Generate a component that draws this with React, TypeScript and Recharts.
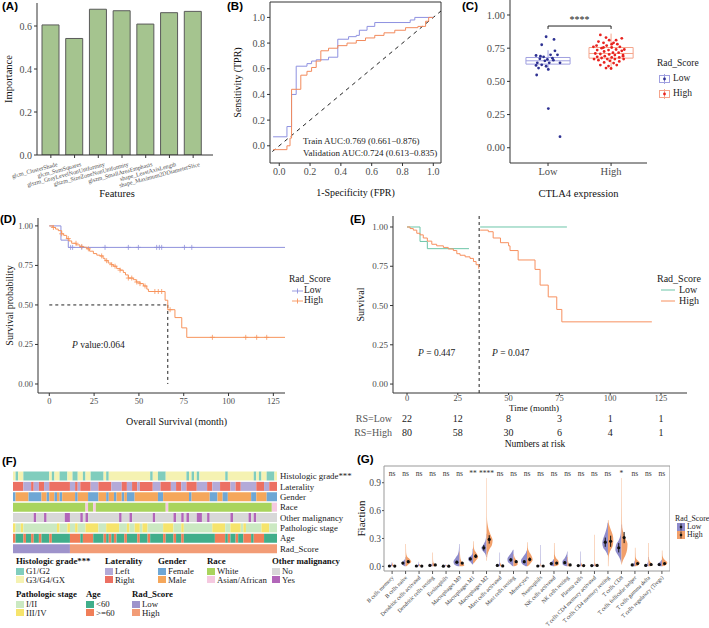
import React from 'react';
import {
  BarChart, Bar, Cell, ComposedChart, Line, Area, Scatter, ScatterChart, XAxis, YAxis,
  ReferenceLine, ReferenceArea, ErrorBar,
} from 'recharts';

const serif = "'Liberation Serif', 'DejaVu Serif', serif";
const sans = "'Liberation Sans', Arial, sans-serif";
const axisCol = '#333333';

// (A) feature importance
const features = [
  'glcm_ClusterShade', 'glcm_SumSquares', 'glszm_GrayLevelNonUniformity', 'glszm_SizeZoneNonUniformity',
  'glszm_SmallAreaEmphasis', 'shape_LeastAxisLength', 'shape_Maximum2DDiameterSlice',
];
const importance = [0.605, 0.542, 0.678, 0.671, 0.609, 0.662, 0.668];

// (B) ROC curves as [fpr, tpr]
const trainRoc = [
  [-0.04, 0.07], [0.05, 0.07], [0.05, 0.15], [0.08, 0.15], [0.08, 0.4], [0.11, 0.4], [0.11, 0.62], [0.18, 0.62],
  [0.18, 0.64], [0.21, 0.64], [0.21, 0.66], [0.24, 0.66], [0.24, 0.67], [0.32, 0.67], [0.32, 0.69], [0.38, 0.69],
  [0.38, 0.83], [0.45, 0.83], [0.45, 0.85], [0.5, 0.85], [0.5, 0.86], [0.52, 0.86], [0.52, 0.9], [0.57, 0.9],
  [0.57, 0.93], [0.62, 0.93], [0.62, 0.96], [0.85, 0.96], [0.85, 0.98], [0.88, 0.98], [0.88, 1], [1, 1],
];
const validRoc = [
  [-0.04, -0.03], [0.05, -0.03], [0.05, 0], [0.07, 0], [0.07, 0.06], [0.08, 0.06], [0.08, 0.44], [0.14, 0.44],
  [0.14, 0.55], [0.18, 0.55], [0.18, 0.58], [0.21, 0.58], [0.21, 0.61], [0.24, 0.61], [0.24, 0.66], [0.27, 0.66],
  [0.27, 0.74], [0.32, 0.74], [0.32, 0.76], [0.38, 0.76], [0.38, 0.78], [0.44, 0.78], [0.44, 0.8], [0.5, 0.8],
  [0.5, 0.82], [0.56, 0.82], [0.56, 0.84], [0.62, 0.84], [0.62, 0.86], [0.68, 0.86], [0.68, 0.88], [0.75, 0.88],
  [0.75, 0.9], [0.82, 0.9], [0.82, 0.92], [0.9, 0.92], [0.9, 0.93], [0.95, 0.93], [0.95, 0.97], [0.97, 0.97],
  [0.97, 1], [1, 1],
];
const aucText = ['Train AUC:0.769 (0.661−0.876)', 'Validation AUC:0.724 (0.613−0.835)'];

// (C) CTLA4 expression, points as [jitter, value]
const groups = ['Low', 'High'];
const lowPoints = [
  [-0.03, 0.836], [0.095, 0.816], [-0.1, 0.776], [0.11, 0.73], [-0.19, 0.695], [-0.07, 0.685], [0.04, 0.7],
  [0.15, 0.7], [-0.13, 0.67], [-0.01, 0.665], [0.085, 0.66], [-0.17, 0.64], [-0.05, 0.655], [0.02, 0.64],
  [-0.1, 0.625], [0.19, 0.64], [-0.19, 0.62], [-0.03, 0.614], [-0.15, 0.6], [0.005, 0.59], [-0.18, 0.548],
  [0.005, 0.295], [0.19, 0.083], [-0.12, 0.69], [0.07, 0.675],
];
const highPoints = [
  [-0.17, 0.85], [0.17, 0.824], [-0.03, 0.81], [-0.12, 0.79], [0.04, 0.79], [0.1, 0.78], [-0.23, 0.77],
  [-0.07, 0.77], [0.14, 0.76], [0.01, 0.755], [-0.15, 0.75], [0.08, 0.74], [-0.22, 0.736], [-0.04, 0.736],
  [0.17, 0.73], [-0.11, 0.725], [0.03, 0.716], [0.12, 0.716], [-0.25, 0.71], [-0.17, 0.706], [-0.03, 0.703],
  [0.06, 0.698], [0.19, 0.698], [-0.1, 0.69], [-0.22, 0.685], [0.01, 0.68], [0.13, 0.68], [-0.15, 0.676],
  [-0.06, 0.668], [0.06, 0.668], [0.2, 0.668], [-0.2, 0.66], [-0.02, 0.655], [0.13, 0.65], [-0.11, 0.643],
  [0.04, 0.638], [-0.17, 0.623], [-0.04, 0.615], [0.09, 0.623], [-0.08, 0.6], [0, 0.597], [-0.28, 0.76],
  [0.21, 0.74], [-0.27, 0.668], [-0.08, 0.83], [0.08, 0.81], [-0.2, 0.8], [0.01, 0.78], [0.19, 0.69], [-0.12, 0.755],
];
// min, q1, median, q3, max
const lowBox = [0.58, 0.63, 0.655, 0.68, 0.735];
const highBox = [0.6, 0.675, 0.71, 0.755, 0.86];

// (D) overall survival, [month, survival]
const osLow = [[0, 1], [6.5, 0.91], [10.6, 0.864], [131.5, 0.864]];
const osHigh = [
  [0, 1], [2, 0.99], [3.5, 0.98], [5, 0.97], [6.9, 0.95], [8, 0.94], [9.7, 0.92], [11, 0.905], [12.5, 0.89],
  [15, 0.88], [17.1, 0.87], [19, 0.865], [20.9, 0.855], [22.5, 0.84], [24.6, 0.825], [26.5, 0.815], [28.3, 0.81],
  [30, 0.795], [31.1, 0.78], [32.9, 0.765], [34.5, 0.755], [35.7, 0.745], [37.6, 0.73], [39.5, 0.72], [41.3, 0.705],
  [42.5, 0.69], [44.1, 0.67], [46.9, 0.66], [48.5, 0.645], [50.6, 0.635], [52.5, 0.62], [54.4, 0.6], [55.3, 0.585],
  [64.6, 0.53], [66.1, 0.47], [70.1, 0.42], [73.9, 0.355], [76.7, 0.295], [131.5, 0.295],
];
const osLowCensor = [11.9, 13, 18.1, 31.1, 44.1, 49.7, 59.9, 61.4, 62.7, 75.4, 79.5];
const osHighCensor = [
  2.3, 6.9, 10.6, 14.9, 18.1, 21.8, 29.2, 32, 34.8, 36.7, 39.5, 44.1, 46, 48.8, 50.6, 53.4, 58.9, 60.8, 62.7,
  67.4, 91, 109.6, 115.7, 121.3,
];

// (E) landmark survival, [month, survival]
const eLowBefore = [[0, 1], [6.4, 0.908], [10, 0.862], [30.5, 0.862]];
const eLowAfter = [[36, 1], [78.7, 1]];
const eHighBefore = [
  [0, 1], [1.5, 0.99], [3.1, 0.98], [4.8, 0.96], [6.4, 0.95], [8, 0.93], [10, 0.91], [12.2, 0.89], [14.6, 0.88],
  [17.9, 0.87], [20.3, 0.86], [22.8, 0.85], [24.5, 0.83], [26.1, 0.82], [28.6, 0.81], [31, 0.8], [32.7, 0.78],
  [34, 0.76], [35.3, 0.735], [35.5, 0.735],
];
const eHighAfter = [
  [36, 0.98], [40, 0.97], [42.4, 0.93], [46, 0.9], [50, 0.88], [50.7, 0.85], [54.7, 0.79], [63, 0.73],
  [65.5, 0.63], [69.5, 0.555], [73.7, 0.475], [76.2, 0.396], [120.5, 0.396],
];
const riskTimes = [0, 25, 50, 75, 100, 125];
const riskLow = [22, 12, 8, 3, 1, 1];
const riskHigh = [80, 58, 30, 6, 4, 1];
const riskRows = ['RS=Low', 'RS=High'];

// (F) clinical heatmap, runs of [category, number of patients]
const heatRows = ['Histologic grade***', 'Laterality', 'Gender', 'Race', 'Other malignancy', 'Pathologic stage', 'Age', 'Rad_Score'];
const heatRuns = [
  [[1, 1], [0, 1], [1, 2], [0, 10], [1, 1], [0, 1], [1, 2], [0, 3], [1, 2], [0, 2], [1, 2], [0, 1], [1, 2], [0, 5], [1, 1], [0, 1], [1, 16], [0, 1], [1, 2], [0, 3], [1, 8], [0, 1], [1, 1], [0, 1], [1, 1], [0, 1], [1, 10], [0, 1], [1, 10], [0, 1], [1, 1], [0, 1], [1, 2], [0, 3], [1, 1]],
  [[1, 4], [0, 3], [1, 1], [0, 2], [1, 2], [0, 2], [1, 8], [0, 2], [1, 1], [0, 1], [1, 4], [0, 3], [1, 5], [0, 4], [1, 2], [0, 2], [1, 2], [0, 1], [1, 5], [0, 3], [1, 4], [0, 2], [1, 2], [0, 2], [1, 4], [0, 4], [1, 2], [0, 3], [1, 4], [0, 2], [1, 2], [0, 6], [1, 3], [0, 2], [1, 3]],
  [[0, 1], [1, 5], [0, 5], [1, 2], [0, 1], [1, 2], [0, 1], [1, 1], [0, 1], [1, 5], [0, 1], [1, 4], [0, 4], [1, 3], [0, 1], [1, 2], [0, 1], [1, 2], [0, 1], [1, 1], [0, 3], [1, 9], [0, 2], [1, 10], [0, 1], [1, 7], [0, 3], [1, 2], [0, 2], [1, 9], [0, 2], [1, 4], [0, 4]],
  [[0, 28], [1, 1], [0, 2], [1, 1], [0, 27], [1, 1], [0, 40], [1, 2]],
  [[0, 8], [1, 1], [0, 3], [1, 1], [0, 7], [1, 2], [0, 4], [1, 1], [0, 1], [1, 1], [0, 12], [1, 1], [0, 3], [1, 1], [0, 8], [1, 1], [0, 7], [1, 1], [0, 2], [1, 1], [0, 1], [1, 1], [0, 3], [1, 2], [0, 2], [1, 1], [0, 8], [1, 1], [0, 6], [1, 1], [0, 1], [1, 1], [0, 8]],
  [[1, 1], [0, 2], [1, 1], [0, 13], [1, 1], [0, 3], [1, 1], [0, 2], [1, 1], [0, 3], [1, 5], [0, 3], [1, 5], [0, 3], [1, 1], [0, 2], [1, 2], [0, 1], [1, 2], [0, 6], [1, 4], [0, 3], [1, 1], [0, 11], [1, 5], [0, 2], [1, 4], [0, 1], [1, 1], [0, 6], [1, 3], [0, 3]],
  [[1, 1], [0, 3], [1, 1], [0, 2], [1, 1], [0, 2], [1, 1], [0, 3], [1, 1], [0, 7], [1, 4], [0, 1], [1, 4], [0, 4], [1, 1], [0, 1], [1, 1], [0, 1], [1, 1], [0, 3], [1, 1], [0, 4], [1, 1], [0, 3], [1, 1], [0, 5], [1, 1], [0, 3], [1, 1], [0, 2], [1, 1], [0, 12], [1, 4], [0, 1], [1, 1], [0, 2], [1, 1], [0, 2], [1, 3], [0, 1], [1, 4], [0, 5]],
  [[0, 22], [1, 80]],
];
const heatColors = [
  ['#80cdbd', '#f5f2b2'], ['#b3aad8', '#ec7063'], ['#6ea7d5', '#f5a75b'], ['#a9d45d', '#f5c9e0'],
  ['#d8d8d8', '#b266b9'], ['#cbe9c2', '#f6e46c'], ['#40ae8b', '#f07e58'], ['#9e93cb', '#f29c76'],
];
const heatLegendItems = [
  ['G1/G2', 'G3/G4/GX'], ['Left', 'Right'], ['Female', 'Male'], ['White', 'Asian/African'],
  ['No', 'Yes'], ['I/II', 'III/IV'], ['<60', '>=60'], ['Low', 'High'],
];

// (G) immune cell fractions, violins as [fraction, half width]
const cellTypes = [
  'B cells memory', 'B cells naive', 'Dendritic cells activated', 'Dendritic cells resting', 'Eosinophils',
  'Macrophages M0', 'Macrophages M1', 'Macrophages M2', 'Mast cells activated', 'Mast cells resting', 'Monocytes',
  'Neutrophils', 'NK cells activated', 'NK cells resting', 'Plasma cells', 'T cells CD4 memory activated',
  'T cells CD4 memory resting', 'T cells CD8', 'T cells follicular helper', 'T cells gamma delta',
  'T cells regulatory (Tregs)',
];
const sigLabels = ['ns', 'ns', 'ns', 'ns', 'ns', 'ns', '**', '****', 'ns', 'ns', 'ns', 'ns', 'ns', 'ns', 'ns', 'ns', 'ns', '*', 'ns', 'ns', 'ns'];
const lowMeans = [0.004, 0.035, 0.004, 0.01, 0.002, 0.045, 0.08, 0.2, 0.01, 0.07, 0.05, 0.004, 0.03, 0.04, 0.008, 0.008, 0.26, 0.2, 0.015, 0.01, 0.02];
const highMeans = [0.003, 0.05, 0.003, 0.015, 0.002, 0.035, 0.11, 0.29, 0.005, 0.05, 0.075, 0.004, 0.035, 0.015, 0.008, 0.01, 0.27, 0.31, 0.03, 0.02, 0.03];
const lowErr = [0.003, 0.01, 0.003, 0.004, 0.002, 0.015, 0.015, 0.03, 0.006, 0.02, 0.015, 0.003, 0.01, 0.015, 0.004, 0.004, 0.05, 0.05, 0.006, 0.005, 0.008];
const highErr = [0.002, 0.015, 0.002, 0.006, 0.001, 0.01, 0.02, 0.045, 0.003, 0.012, 0.02, 0.002, 0.012, 0.006, 0.004, 0.006, 0.06, 0.06, 0.01, 0.01, 0.01];
const lowViolin = [
  [[0, 0.05], [0.005, 0.2], [0.015, 0.1], [0.03, 0.035], [0.045, 0.03]],
  [[0, 0.05], [0.02, 0.25], [0.04, 0.3], [0.06, 0.15], [0.08, 0.05], [0.1, 0.03]],
  [[0, 0.05], [0.005, 0.3], [0.015, 0.1], [0.03, 0.035], [0.05, 0.03]],
  [[0, 0.05], [0.008, 0.3], [0.02, 0.1], [0.035, 0.03]],
  [[0, 0.05], [0.003, 0.3], [0.01, 0.06], [0.02, 0.03]],
  [[0, 0.1], [0.02, 0.38], [0.05, 0.45], [0.09, 0.3], [0.13, 0.12], [0.18, 0.05], [0.24, 0.03]],
  [[0.02, 0.03], [0.04, 0.15], [0.07, 0.35], [0.09, 0.35], [0.12, 0.12], [0.15, 0.04], [0.19, 0.03]],
  [[0.1, 0.03], [0.14, 0.12], [0.17, 0.3], [0.2, 0.38], [0.23, 0.25], [0.27, 0.1], [0.31, 0.04], [0.35, 0.03]],
  [[0, 0.05], [0.005, 0.3], [0.02, 0.1], [0.05, 0.035], [0.15, 0.03]],
  [[0, 0.05], [0.02, 0.2], [0.05, 0.42], [0.08, 0.45], [0.12, 0.3], [0.15, 0.15], [0.18, 0.04]],
  [[0, 0.1], [0.03, 0.38], [0.06, 0.45], [0.1, 0.3], [0.14, 0.1], [0.17, 0.03]],
  [[0, 0.05], [0.003, 0.3], [0.01, 0.06], [0.04, 0.035], [0.23, 0.03]],
  [[0, 0.05], [0.015, 0.3], [0.035, 0.3], [0.06, 0.1], [0.08, 0.03]],
  [[0, 0.05], [0.02, 0.35], [0.05, 0.38], [0.09, 0.2], [0.13, 0.06], [0.16, 0.03]],
  [[0, 0.05], [0.005, 0.3], [0.015, 0.08], [0.04, 0.035], [0.16, 0.03]],
  [[0, 0.05], [0.005, 0.3], [0.015, 0.08], [0.03, 0.03]],
  [[0.12, 0.03], [0.16, 0.15], [0.2, 0.35], [0.25, 0.42], [0.3, 0.35], [0.36, 0.2], [0.42, 0.08], [0.47, 0.03]],
  [[0.04, 0.03], [0.08, 0.1], [0.13, 0.3], [0.18, 0.45], [0.23, 0.4], [0.28, 0.2], [0.33, 0.08], [0.38, 0.04], [0.45, 0.03]],
  [[0, 0.05], [0.01, 0.3], [0.025, 0.2], [0.04, 0.05], [0.06, 0.03]],
  [[0, 0.05], [0.008, 0.3], [0.02, 0.15], [0.05, 0.035], [0.1, 0.03]],
  [[0, 0.05], [0.01, 0.3], [0.03, 0.3], [0.05, 0.12], [0.07, 0.03]],
];
const highViolin = [
  [[0, 0.05], [0.005, 0.2], [0.015, 0.1], [0.03, 0.035], [0.04, 0.03]],
  [[0, 0.06], [0.02, 0.2], [0.05, 0.42], [0.08, 0.3], [0.11, 0.1], [0.15, 0.04], [0.24, 0.03]],
  [[0, 0.05], [0.005, 0.3], [0.012, 0.1], [0.025, 0.03]],
  [[0, 0.05], [0.01, 0.3], [0.025, 0.15], [0.05, 0.05], [0.08, 0.035], [0.15, 0.03]],
  [[0, 0.05], [0.003, 0.3], [0.01, 0.05], [0.015, 0.03]],
  [[0, 0.15], [0.01, 0.35], [0.03, 0.3], [0.06, 0.12], [0.1, 0.05], [0.16, 0.03]],
  [[0.03, 0.03], [0.06, 0.2], [0.1, 0.38], [0.13, 0.3], [0.17, 0.12], [0.21, 0.05], [0.27, 0.03]],
  [[0.06, 0.03], [0.12, 0.06], [0.18, 0.2], [0.23, 0.4], [0.28, 0.45], [0.34, 0.3], [0.4, 0.15], [0.45, 0.08], [0.5, 0.04], [0.55, 0.03], [0.95, 0.025]],
  [[0, 0.05], [0.005, 0.3], [0.015, 0.1], [0.04, 0.03]],
  [[0, 0.05], [0.02, 0.3], [0.05, 0.3], [0.08, 0.15], [0.11, 0.05], [0.13, 0.03]],
  [[0, 0.05], [0.03, 0.25], [0.07, 0.42], [0.11, 0.35], [0.16, 0.15], [0.2, 0.05], [0.26, 0.03]],
  [[0, 0.05], [0.003, 0.3], [0.01, 0.06], [0.03, 0.03]],
  [[0, 0.05], [0.02, 0.35], [0.05, 0.35], [0.09, 0.15], [0.13, 0.05], [0.25, 0.03]],
  [[0, 0.05], [0.01, 0.3], [0.025, 0.15], [0.05, 0.05], [0.1, 0.03]],
  [[0, 0.05], [0.005, 0.3], [0.015, 0.08], [0.04, 0.03]],
  [[0, 0.05], [0.005, 0.3], [0.02, 0.1], [0.05, 0.035], [0.34, 0.03]],
  [[0, 0.03], [0.1, 0.05], [0.16, 0.15], [0.22, 0.35], [0.28, 0.4], [0.34, 0.35], [0.4, 0.2], [0.45, 0.08], [0.5, 0.03]],
  [[0.02, 0.03], [0.06, 0.1], [0.12, 0.3], [0.18, 0.42], [0.24, 0.45], [0.3, 0.3], [0.36, 0.15], [0.42, 0.06], [0.5, 0.04], [0.7, 0.03], [0.95, 0.025]],
  [[0, 0.05], [0.02, 0.3], [0.04, 0.35], [0.07, 0.15], [0.1, 0.05], [0.2, 0.03]],
  [[0, 0.05], [0.01, 0.3], [0.03, 0.25], [0.06, 0.08], [0.1, 0.035], [0.25, 0.03]],
  [[0, 0.05], [0.015, 0.3], [0.04, 0.4], [0.07, 0.2], [0.1, 0.07], [0.13, 0.035], [0.17, 0.03]],
];

const tick = (size: number) => ({ fontSize: size, fill: '#4d4d4d', fontFamily: serif });
const title = (size: number, extra: any = {}) => ({ fontSize: size, fill: '#111', fontFamily: serif, ...extra });
const vTitle = (value: string, offset: number, size = 10) => ({
  value, angle: -90, position: 'insideLeft', offset, ...title(size), style: { textAnchor: 'middle' },
});
const line = { stroke: axisCol };

const survAt = (curve: number[][], t: number) => {
  let s = curve[0][1];
  curve.forEach(([ct, cs]) => { if (ct <= t) s = cs; });
  return s;
};
const toKm = (curve: number[][]) => curve.map(([t, s]) => ({ t, s }));
const plusShape = (color: string) => (p: any) => (
  <path d={`M${p.cx - 2.5},${p.cy}h5M${p.cx},${p.cy - 2.5}v5`} stroke={color} strokeWidth={0.8} fill="none" />
);

const Txt = ({ x, y, children, size = 9, anchor = 'start', weight = 'normal', family = serif, color = '#222' }: any) => (
  <div style={{
    position: 'absolute', left: x, top: y, whiteSpace: 'nowrap', lineHeight: 1, fontSize: size, fontFamily: family,
    fontWeight: weight, color,
    transform: `translate(${anchor === 'middle' ? '-50%' : anchor === 'end' ? '-100%' : '0'}, -50%)`,
  }}>{children}</div>
);

const FeatureTick = ({ x, y, payload }: any) => (
  <text x={x + 7} y={y + 6} transform={`rotate(-15, ${x + 7}, ${y + 6})`} textAnchor="end" fontSize={6}
    fontFamily={serif} fill="#4d4d4d">{payload.value}</text>
);

function PanelA() {
  const data = features.map((name, i) => ({ name, value: importance[i] }));
  return (
    <div style={{ position: 'absolute', left: 0, top: 0 }}>
      <BarChart width={225} height={200} data={data} margin={{ top: 3, right: 12, bottom: 0, left: 0 }}>
        <XAxis dataKey="name" interval={0} height={45} tick={<FeatureTick />} tickSize={3} axisLine={line} tickLine={line}
          padding={{ left: 2, right: 8 }}
          label={{ value: 'Features', position: 'insideBottom', offset: 3, dx: -8, ...title(10.5) }} />
        <YAxis width={37} domain={[0, 0.707]} allowDataOverflow ticks={[0, 0.2, 0.4, 0.6]}
          tickFormatter={(v: number) => v.toFixed(1)} tick={tick(10)} tickSize={3} axisLine={line} tickLine={line}
          label={vTitle('Importance', 8, 10.5)} />
        <Bar dataKey="value" fill="#a5c48f" stroke="#5a5a5a" strokeWidth={1} barSize={17} isAnimationActive={false} />
      </BarChart>
    </div>
  );
}

function PanelB() {
  const unit = [0, 0.2, 0.4, 0.6, 0.8, 1];
  return (
    <div style={{ position: 'absolute', left: 225, top: 0 }}>
      <ComposedChart width={240} height={200} margin={{ top: 2, right: 24, bottom: 0, left: 0 }}>
        <XAxis type="number" dataKey="fpr" domain={[-0.06, 1.05]} allowDataOverflow ticks={unit}
          tickFormatter={(v: number) => v.toFixed(1)} tick={tick(10)} tickSize={3} axisLine={false} tickLine={line} height={37}
          label={{ value: '1-Specificity (FPR)', position: 'insideBottom', offset: 4, ...title(10) }} />
        <YAxis type="number" domain={[-0.134, 1.12]} allowDataOverflow ticks={unit}
          tickFormatter={(v: number) => v.toFixed(1)} tick={tick(10)} tickSize={3} axisLine={false} tickLine={line} width={45}
          label={vTitle('Sensitivity (TPR)', 12)} />
        <ReferenceArea x1={-0.06} x2={1.05} y1={-0.134} y2={1.12} fill="none" stroke={axisCol} strokeWidth={1} />
        <ReferenceLine segment={[{ x: -0.045, y: -0.045 }, { x: 1.05, y: 1.05 }]} stroke="#222" strokeDasharray="4 4" />
        <Line data={trainRoc.map(([fpr, tpr]) => ({ fpr, tpr }))} dataKey="tpr" type="linear" dot={false}
          stroke="#8e91e0" strokeWidth={1} isAnimationActive={false} />
        <Line data={validRoc.map(([fpr, tpr]) => ({ fpr, tpr }))} dataKey="tpr" type="linear" dot={false}
          stroke="#f28a5c" strokeWidth={1} isAnimationActive={false} />
      </ComposedChart>
    </div>
  );
}

function BoxMarks(center: number, box: number[], color: string) {
  const [lo, q1, med, q3, hi] = box;
  return [
    <ReferenceArea key="b" x1={center - 0.35} x2={center + 0.35} y1={q1} y2={q3} fill="none" stroke={color} strokeWidth={1} />,
    <ReferenceLine key="m" segment={[{ x: center - 0.35, y: med }, { x: center + 0.35, y: med }]} stroke={color} />,
    <ReferenceLine key="u" segment={[{ x: center, y: q3 }, { x: center, y: hi }]} stroke={color} />,
    <ReferenceLine key="l" segment={[{ x: center, y: lo }, { x: center, y: q1 }]} stroke={color} />,
  ];
}

function PanelC() {
  const dot = (color: string) => (p: any) => <circle cx={p.cx} cy={p.cy} r={1.4} fill={color} />;
  return (
    <div style={{ position: 'absolute', left: 460, top: 0 }}>
      <ScatterChart width={190} height={200} margin={{ top: 0, right: 3, bottom: 0, left: 0 }}>
        <XAxis type="number" dataKey="x" domain={[0.397, 2.57]} allowDataOverflow ticks={[1, 2]}
          tickFormatter={(v: number) => groups[v - 1]} tick={tick(10.5)} tickSize={3} axisLine={line} tickLine={line} height={37}
          label={{ value: 'CTLA4 expression', position: 'insideBottom', offset: 3, ...title(10.5) }} />
        <YAxis type="number" dataKey="y" domain={[-0.115, 1.113]} allowDataOverflow ticks={[0, 0.25, 0.5, 0.75, 1]}
          tickFormatter={(v: number) => v.toFixed(2)} tick={tick(10.5)} tickSize={3} axisLine={line} tickLine={line} width={50} />
        {BoxMarks(1, lowBox, '#a0a0e0')}
        {BoxMarks(2, highBox, '#f5a58c')}
        <ReferenceLine segment={[{ x: 1, y: 0.895 }, { x: 1, y: 0.917 }]} stroke="#222" />
        <ReferenceLine segment={[{ x: 1, y: 0.917 }, { x: 2, y: 0.917 }]} stroke="#222"
          label={{ value: '****', position: 'top', offset: 3, fontSize: 10, fill: '#222', fontFamily: serif }} />
        <ReferenceLine segment={[{ x: 2, y: 0.917 }, { x: 2, y: 0.895 }]} stroke="#222" />
        <Scatter data={lowPoints.map(([dx, y]) => ({ x: 1 + dx, y }))} shape={dot('#2e3192')} isAnimationActive={false} />
        <Scatter data={highPoints.map(([dx, y]) => ({ x: 2 + dx, y }))} shape={dot('#e8231f')} isAnimationActive={false} />
      </ScatterChart>
    </div>
  );
}

function PanelD() {
  const lowCol = '#9092dc';
  const highCol = '#f7945c';
  return (
    <div style={{ position: 'absolute', left: 0, top: 200 }}>
      <ComposedChart width={290} height={228} margin={{ top: 18, right: 5, bottom: 0, left: 0 }}>
        <XAxis type="number" dataKey="t" domain={[-6.3, 131.5]} allowDataOverflow ticks={[0, 25, 50, 75, 100, 125]}
          tick={tick(8.5)} tickSize={3} axisLine={line} tickLine={line} height={35}
          label={{ value: 'Overall Survival (month)', position: 'insideBottom', offset: 3, dx: 15, ...title(10) }} />
        <YAxis type="number" domain={[-0.057, 1.05]} allowDataOverflow ticks={[0, 0.25, 0.5, 0.75, 1]}
          tickFormatter={(v: number) => v.toFixed(2)} tick={tick(8.5)} tickSize={3} axisLine={line} tickLine={line} width={38}
          label={vTitle('Survival probability', 9)} />
        <ReferenceLine segment={[{ x: 0, y: 0.5 }, { x: 66.1, y: 0.5 }]} stroke="#222" strokeDasharray="3 3" />
        <ReferenceLine segment={[{ x: 66.1, y: 0.5 }, { x: 66.1, y: 0 }]} stroke="#222" strokeDasharray="3 3" />
        <Line data={toKm(osLow)} dataKey="s" type="stepAfter" dot={false} stroke={lowCol} strokeWidth={1} isAnimationActive={false} />
        <Line data={toKm(osHigh)} dataKey="s" type="stepAfter" dot={false} stroke={highCol} strokeWidth={1} isAnimationActive={false} />
        <Scatter data={osLowCensor.map((t) => ({ t, s: survAt(osLow, t) }))} dataKey="s" shape={plusShape(lowCol)} isAnimationActive={false} />
        <Scatter data={osHighCensor.map((t) => ({ t, s: survAt(osHigh, t) }))} dataKey="s" shape={plusShape(highCol)} isAnimationActive={false} />
      </ComposedChart>
    </div>
  );
}

const RiskTick = ({ x, y, payload }: any) => (
  <text x={x} y={y} textAnchor="end" dominantBaseline="central" fontSize={10} fontFamily={serif} fill="#555">
    {riskRows[payload.value - 1]}
  </text>
);

function PanelE() {
  const lowCol = '#6cc5a8';
  const highCol = '#f7905f';
  const riskData = riskTimes.flatMap((t, i) => [{ t, row: 1, n: riskLow[i] }, { t, row: 2, n: riskHigh[i] }]);
  const km = (curve: number[][], color: string) => (
    <Line data={toKm(curve)} dataKey="s" type="stepAfter" dot={false} stroke={color} strokeWidth={1} isAnimationActive={false} />
  );
  return (
    <>
      <div style={{ position: 'absolute', left: 350, top: 200 }}>
        <ComposedChart width={345} height={220} margin={{ top: 16, right: 8, bottom: 0, left: 0 }}>
          <XAxis type="number" dataKey="t" domain={[-6.9, 137.8]} allowDataOverflow ticks={riskTimes}
            tick={tick(8.5)} tickSize={2} tickMargin={0} axisLine={line} tickLine={line} height={27}
            label={{ value: 'Time (month)', position: 'insideBottom', offset: 9.5, dx: -6, ...title(9) }} />
          <YAxis type="number" domain={[-0.057, 1.07]} allowDataOverflow ticks={[0, 0.25, 0.5, 0.75, 1]}
            tickFormatter={(v: number) => v.toFixed(2)} tick={tick(9)} tickSize={3} axisLine={line} tickLine={line} width={43}
            label={vTitle('Survival', 10)} />
          <ReferenceLine x={35.5} stroke="#222" strokeDasharray="3 3" />
          {km(eLowBefore, lowCol)}
          {km(eLowAfter, lowCol)}
          {km(eHighBefore, highCol)}
          {km(eHighAfter, highCol)}
        </ComposedChart>
      </div>
      <div style={{ position: 'absolute', left: 350, top: 410 }}>
        <ScatterChart width={345} height={44} margin={{ top: 1, right: 8, bottom: 0, left: 0 }}>
          <XAxis type="number" dataKey="t" domain={[-6.9, 137.8]} allowDataOverflow tick={false} tickLine={false}
            axisLine={false} height={15}
            label={{ value: 'Numbers at risk', position: 'insideBottom', offset: 7, dx: -5, ...title(9.5) }} />
          <YAxis type="number" dataKey="row" domain={[0.5, 2.5]} reversed ticks={[1, 2]} interval={0}
            width={43} axisLine={false} tickLine={false} tickSize={0} tickMargin={1} tick={<RiskTick />} />
          <Scatter data={riskData} isAnimationActive={false}
            shape={(p: any) => (
              <text x={p.cx} y={p.cy} textAnchor="middle" dominantBaseline="central" fontSize={10} fontFamily={serif} fill="#222">
                {p.payload.n}
              </text>
            )} />
        </ScatterChart>
      </div>
    </>
  );
}

const HeatTick = ({ x, y, payload }: any) => (
  <text x={x} y={y} textAnchor="start" dominantBaseline="central" fontSize={8.8} fontFamily={serif} fill="#222">
    {payload.value}
  </text>
);

function PanelF() {
  const maxSeg = Math.max(...heatRuns.map((r) => r.length));
  const total = heatRuns[0].reduce((a, [, n]) => a + n, 0);
  const data = heatRows.map((name, r) => {
    const row: any = { name };
    heatRuns[r].forEach(([, n], k) => { row[`s${k}`] = n; });
    return row;
  });
  return (
    <div style={{ position: 'absolute', left: 13, top: 470.5 }}>
      <BarChart layout="vertical" width={344} height={83} data={data} margin={{ top: 0, right: 0, bottom: 0, left: 0 }}
        barCategoryGap={0.5}>
        <XAxis type="number" domain={[0, total]} hide />
        <YAxis type="category" dataKey="name" orientation="right" width={80} axisLine={false} tickLine={false}
          tickSize={0} tickMargin={3} interval={0} tick={<HeatTick />} />
        {Array.from({ length: maxSeg }, (_, k) => (
          <Bar key={k} dataKey={`s${k}`} stackId="h" isAnimationActive={false}>
            {heatRuns.map((runs, r) => (
              <Cell key={r} fill={runs[k] ? heatColors[r][runs[k][0]] : 'none'} />
            ))}
          </Bar>
        ))}
      </BarChart>
    </div>
  );
}

function HeatLegend() {
  const spots = [[16, 561], [105, 561], [158, 561], [207, 561], [272, 561], [16, 594], [86, 594], [132, 594]];
  return (
    <>
      {heatRows.map((name, r) => {
        const [x, y] = spots[r];
        return (
          <React.Fragment key={r}>
            <Txt x={x} y={y} size={8.8} weight="bold" color="#111">{name}</Txt>
            {heatLegendItems[r].map((label, k) => (
              <React.Fragment key={k}>
                <div style={{ position: 'absolute', left: x, top: y + 6.5 + k * 8.5, width: 8, height: 7, background: heatColors[r][k] }} />
                <Txt x={x + 10} y={y + 10 + k * 8.5} size={8.8}>{label}</Txt>
              </React.Fragment>
            ))}
          </React.Fragment>
        );
      })}
    </>
  );
}

const CellTick = ({ x, y, payload }: any) => (
  <text x={x + 2} y={y + 2} transform={`rotate(-45, ${x + 2}, ${y + 2})`} textAnchor="end" fontSize={5.6}
    fontFamily={serif} fill="#333">{cellTypes[payload.value]}</text>
);

function PanelG() {
  const lowCol = '#8e8bcb';
  const highCol = '#f2a06b';
  const meanDot = (p: any) => <circle cx={p.cx} cy={p.cy} r={1.6} fill="#111" />;
  const half = (profile: number[][], i: number, side: number) =>
    profile.map(([y, w]) => ({ y, v: side < 0 ? [i - w, i] : [i, i + w] }));
  return (
    <div style={{ position: 'absolute', left: 355, top: 460 }}>
      <ComposedChart layout="vertical" width={315} height={168} margin={{ top: 6, right: 0, bottom: 0, left: 0 }}>
        <XAxis type="number" dataKey="x" domain={[-0.6, 20.6]} allowDataOverflow ticks={cellTypes.map((_, i) => i)}
          interval={0} tick={<CellTick />} tickSize={3} axisLine={false} tickLine={{ stroke: '#555' }} height={57} />
        <YAxis type="number" dataKey="y" domain={[-0.05, 1.08]} allowDataOverflow reversed ticks={[0, 0.3, 0.6, 0.9]}
          tickFormatter={(v: number) => v.toFixed(1)} tick={tick(9.5)} tickSize={2} tickMargin={1} axisLine={false}
          tickLine={{ stroke: '#555' }} width={29} label={vTitle('Fiaction', 6, 11)} />
        <ReferenceArea x1={-0.6} x2={20.6} y1={-0.05} y2={1.08} fill="none" stroke="#999" strokeWidth={1} />
        {cellTypes.map((_, i) => (
          <Area key={`l${i}`} data={half(lowViolin[i], i, -1)} dataKey="v" type="monotone" fill={lowCol} fillOpacity={1}
            stroke="none" dot={false} activeDot={false} isAnimationActive={false} />
        ))}
        {cellTypes.map((_, i) => (
          <Area key={`h${i}`} data={half(highViolin[i], i, 1)} dataKey="v" type="monotone" fill={highCol} fillOpacity={1}
            stroke="none" dot={false} activeDot={false} isAnimationActive={false} />
        ))}
        <Scatter data={lowMeans.map((m, i) => ({ x: i - 0.2, y: m, e: lowErr[i] }))} shape={meanDot} isAnimationActive={false}>
          <ErrorBar dataKey="e" direction="y" width={0} stroke="#111" strokeWidth={1} />
        </Scatter>
        <Scatter data={highMeans.map((m, i) => ({ x: i + 0.2, y: m, e: highErr[i] }))} shape={meanDot} isAnimationActive={false}>
          <ErrorBar dataKey="e" direction="y" width={0} stroke="#111" strokeWidth={1} />
        </Scatter>
        <Scatter data={sigLabels.map((sig, i) => ({ x: i, y: 1.0, sig }))} isAnimationActive={false}
          shape={(p: any) => (
            <text x={p.cx} y={p.cy} textAnchor="middle" dominantBaseline="central" fontSize={7.5} fontFamily={serif} fill="#333">
              {p.payload.sig}
            </text>
          )} />
      </ComposedChart>
    </div>
  );
}

const Letter = ({ x, y, children }: any) => (
  <Txt x={x} y={y} size={11.5} weight="bold" family={sans} color="#000">{children}</Txt>
);

export default function App() {
  return (
    <div style={{ position: 'absolute', left: 0, top: 0, width: 709, height: 628, background: '#fff', overflow: 'hidden' }}>
      <PanelA />
      <PanelB />
      <PanelC />
      <PanelD />
      <PanelE />
      <PanelF />
      <PanelG />
      <HeatLegend />

      <Letter x={2} y={7}>(A)</Letter>
      <Letter x={227} y={7}>(B)</Letter>
      <Letter x={462} y={7}>(C)</Letter>
      <Letter x={0} y={220}>(D)</Letter>
      <Letter x={350} y={220}>(E)</Letter>
      <Letter x={2} y={462}>(F)</Letter>
      <Letter x={357} y={460}>(G)</Letter>

      <Txt x={303} y={141} size={9}>{aucText[0]}</Txt>
      <Txt x={303} y={153} size={9}>{aucText[1]}</Txt>

      <Txt x={657} y={64} size={9.5}>Rad_Score</Txt>
      {groups.map((g, k) => (
        <React.Fragment key={g}>
          <svg style={{ position: 'absolute', left: 659, top: 74 + k * 15 }} width={11} height={10}>
            <rect x={0.5} y={1.5} width={10} height={7} fill="none" stroke={k ? '#f5a58c' : '#a0a0e0'} />
            <line x1={5.5} y1={0} x2={5.5} y2={10} stroke={k ? '#f5a58c' : '#a0a0e0'} />
            <circle cx={5.5} cy={5} r={1.4} fill={k ? '#e8231f' : '#2e3192'} />
          </svg>
          <Txt x={673} y={79 + k * 15} size={9.5}>{g}</Txt>
        </React.Fragment>
      ))}

      <Txt x={289} y={280} size={9.5}>Rad_Score</Txt>
      {groups.map((g, k) => (
        <React.Fragment key={g}>
          <svg style={{ position: 'absolute', left: 292, top: 286 + k * 10 }} width={11} height={10}>
            <path d="M0,5h11M5.5,2.5v5" stroke={k ? '#f7945c' : '#9092dc'} strokeWidth={0.9} />
          </svg>
          <Txt x={304} y={291 + k * 10} size={9.5}>{g}</Txt>
        </React.Fragment>
      ))}
      <Txt x={72} y={346} size={9.5}><i>P</i> value:0.064</Txt>

      <Txt x={657} y={279} size={10}>Rad_Score</Txt>
      {groups.map((g, k) => (
        <React.Fragment key={g}>
          <svg style={{ position: 'absolute', left: 661, top: 285 + k * 11 }} width={14} height={10}>
            <path d="M0,5h14" stroke={k ? '#f7905f' : '#6cc5a8'} strokeWidth={1} />
          </svg>
          <Txt x={679} y={290 + k * 11} size={10}>{g}</Txt>
        </React.Fragment>
      ))}
      <Txt x={418} y={354} size={9.5}><i>P</i> = 0.447</Txt>
      <Txt x={492} y={354} size={9.5}><i>P</i> = 0.047</Txt>

      <Txt x={675} y={519} size={7.8}>Rad_Score</Txt>
      {groups.map((g, k) => (
        <React.Fragment key={g}>
          <svg style={{ position: 'absolute', left: 677, top: 523 + k * 8 }} width={8} height={8}>
            <rect x={0} y={0} width={8} height={8} fill={k ? '#f2a06b' : '#8e8bcb'} />
            <line x1={4} y1={0.5} x2={4} y2={7.5} stroke="#111" strokeWidth={0.8} />
            <circle cx={4} cy={4} r={1.3} fill="#111" />
          </svg>
          <Txt x={687} y={527 + k * 8} size={7.8}>{g}</Txt>
        </React.Fragment>
      ))}
    </div>
  );
}
